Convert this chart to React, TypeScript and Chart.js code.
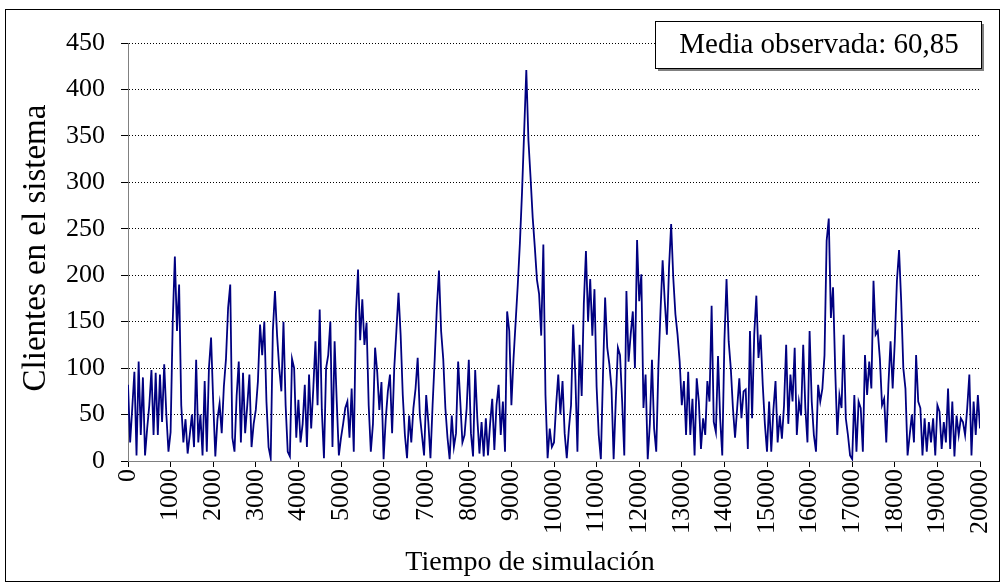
import React, { useEffect, useRef } from "react";
import { Chart, registerables } from "chart.js";

Chart.register(...registerables);

const TIME_STEP = 50;
const X_MAX = 20000;
const X_TICK_STEP = 1000;
const Y_MAX = 450;
const Y_TICK_STEP = 50;

const X_TITLE = "Tiempo de simulación";
const Y_TITLE = "Clientes en el sistema";
const NOTE = "Media observada: 60,85";

// Clientes en el sistema, one reading every 50 time units
const clientes0000 = [82,20,57,96,6,107,28,90,6,35,60,98,28,95,28,93,42,104,50,10,
  31,150,220,140,190,60,20,45,8,28,50,15,109,20,50,6,86,10,100,133];
const clientes2000 = [64,5,45,62,30,80,110,165,190,25,10,70,107,20,95,30,60,93,15,40,
  55,86,147,114,150,64,15,3,140,183,135,100,75,150,60,10,5,110,100,25];
const clientes4000 = [66,20,40,82,15,93,35,78,129,60,163,55,3,100,114,150,15,129,64,6,
  25,40,57,64,25,78,10,158,206,130,174,125,149,60,10,40,122,96,55,85];
const clientes6000 = [2,45,75,93,30,100,140,181,136,71,28,3,49,20,57,78,111,50,28,6,
  71,42,3,60,110,165,205,140,110,57,25,2,49,15,30,107,64,20,28,57];
const clientes8000 = [109,30,5,98,46,8,42,5,46,6,40,67,12,60,82,28,64,10,161,140,
  60,110,150,190,235,290,355,421,345,305,262,230,195,180,135,233,71,3,35,15];
const clientes10000 = [20,60,93,50,86,30,3,35,60,147,93,10,125,70,169,226,150,196,135,185,
  80,28,2,93,176,122,104,78,2,64,122,114,64,6,183,107,136,161,100,238];
const clientes12000 = [172,201,57,93,2,40,109,35,10,100,161,216,172,136,208,255,197,158,136,107,
  60,86,28,96,28,67,6,89,64,13,46,28,86,64,167,42,31,113,46,6];
const clientes14000 = [129,196,129,100,57,25,57,89,46,75,77,13,140,46,136,178,111,136,82,40,
  10,64,10,55,86,20,49,24,60,125,40,93,64,122,28,64,49,125,57,20];
const clientes16000 = [140,64,28,10,82,64,78,114,237,261,154,187,100,28,71,57,136,46,28,6,
  2,71,10,64,57,10,114,71,107,78,194,136,140,110,60,67,20,82,129,78];
const clientes18000 = [129,194,227,172,100,78,6,28,50,20,114,64,57,6,46,10,42,20,46,6,
  60,53,13,42,20,78,13,64,5,49,28,46,42,28,57,93,6,64,28,71,35];

const FONT = "'Liberation Serif', 'Times New Roman', serif";

export default function App() {
  const ref = useRef<HTMLCanvasElement | null>(null);

  useEffect(() => {
    document.body.style.margin = "0";
    const canvas = ref.current;
    if (!canvas) return;

    const values = [
      ...clientes0000, ...clientes2000, ...clientes4000, ...clientes6000, ...clientes8000,
      ...clientes10000, ...clientes12000, ...clientes14000, ...clientes16000, ...clientes18000,
    ];
    const points = values.map((v, i) => ({ x: i * TIME_STEP, y: v }));

    const decor = {
      id: "decor",
      afterDraw(chart: any) {
        const ctx = chart.ctx as CanvasRenderingContext2D;
        ctx.save();
        // outer frame
        ctx.strokeStyle = "#000";
        ctx.lineWidth = 1;
        ctx.strokeRect(5.5, 9.5, 994, 572);
        // note box with shadow
        const bx = 655, by = 21, bw = 326, bh = 47;
        ctx.fillStyle = "#808080";
        ctx.fillRect(bx + 3, by + 3, bw, bh);
        ctx.fillStyle = "#fff";
        ctx.fillRect(bx, by, bw, bh);
        ctx.strokeStyle = "#000";
        ctx.strokeRect(bx + 0.5, by + 0.5, bw, bh);
        ctx.fillStyle = "#000";
        ctx.font = `29px ${FONT}`;
        ctx.textAlign = "center";
        ctx.textBaseline = "middle";
        ctx.fillText(NOTE, bx + bw / 2 + 1, by + bh / 2 + 1);
        // axis titles
        ctx.font = `28px ${FONT}`;
        ctx.fillText(X_TITLE, 530, 563);
        ctx.font = `33px ${FONT}`;
        ctx.translate(36, 248);
        ctx.rotate(-Math.PI / 2);
        ctx.fillText(Y_TITLE, 0, 0);
        ctx.restore();
      },
    };

    const chart = new Chart(canvas, {
      type: "line",
      data: {
        datasets: [
          {
            data: points,
            borderColor: "#000080",
            borderWidth: 1.8,
            pointRadius: 0,
            tension: 0,
            fill: false,
          },
        ],
      },
      options: {
        animation: false,
        responsive: false,
        maintainAspectRatio: false,
        layout: { padding: { top: 43, right: 0, left: 0, bottom: 0 } },
        plugins: { legend: { display: false }, tooltip: { enabled: false } },
        scales: {
          x: {
            type: "linear",
            min: 0,
            max: X_MAX,
            ticks: {
              stepSize: X_TICK_STEP,
              minRotation: 90,
              maxRotation: 90,
              autoSkip: false,
              color: "#000",
              padding: 2,
              font: { family: FONT, size: 26, lineHeight: 1 },
              callback: (v: any) => String(v),
            },
            grid: {
              drawOnChartArea: false,
              drawTicks: true,
              tickLength: 6,
              tickColor: "#000",
            },
            border: { color: "#808080", width: 1 },
            afterFit: (s: any) => {
              s.height = 583 - 461;
              s.paddingRight = 24;
            },
          },
          y: {
            min: 0,
            max: Y_MAX,
            ticks: {
              stepSize: Y_TICK_STEP,
              color: "#000",
              padding: 16,
              font: { family: FONT, size: 26 },
            },
            grid: {
              color: (c: any) => (c.tick && c.tick.value === 0 ? "rgba(0,0,0,0)" : "#000"),
              lineWidth: 1,
              tickLength: 7,
              tickColor: "#000",
              tickBorderDash: [],
            },
            border: { color: "#808080", width: 1, dash: [1, 2] },
            afterFit: (s: any) => {
              s.width = 128;
            },
          },
        },
      },
      plugins: [decor],
    } as any);

    return () => chart.destroy();
  }, []);

  return (
    <div style={{ width: 1004, height: 583 }}>
      <canvas ref={ref} width={1004} height={583} style={{ display: "block" }} />
    </div>
  );
}
